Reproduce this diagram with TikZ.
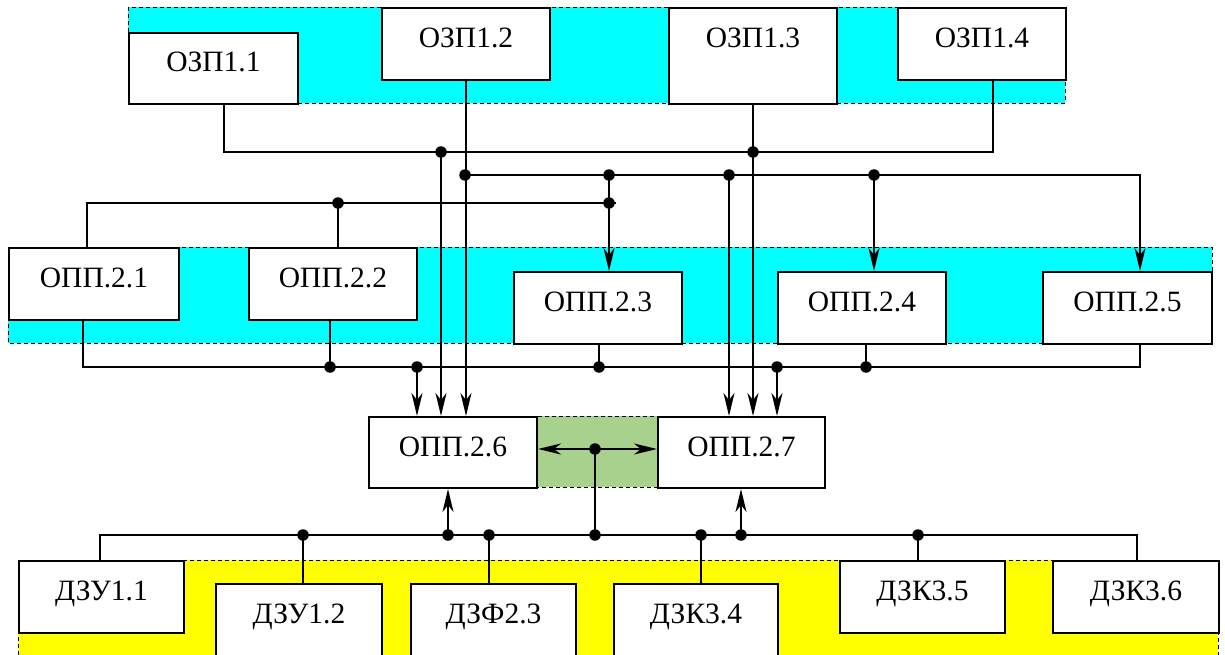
\documentclass[tikz,border=0pt]{standalone}
\usepackage{fontspec}
\setmainfont{Liberation Serif}
\usetikzlibrary{arrows.meta,calc}
\definecolor{cyanband}{RGB}{0,255,255}
\definecolor{greenband}{RGB}{169,209,142}
\definecolor{yellowband}{RGB}{255,255,0}
\begin{document}
\begin{tikzpicture}[x=1pt,y=-1pt,
 box/.style={draw, fill=white, line width=2pt, anchor=north west, inner sep=0pt,
   minimum width=168pt, minimum height=72pt, font=\fontsize{29.5}{31}\selectfont,
   text height=20pt, text depth=13pt},
 band/.style={draw, line width=0.8pt, dash pattern=on 4pt off 3pt},
 bus/.style={line width=1.8pt},
 tip/.tip={Stealth[length=23pt,width=11pt,inset=7pt]},
 arr/.style={line width=2.4pt, -tip},
 dot/.style={circle, fill=black, inner sep=0pt, minimum size=11.5pt}
]
\useasboundingbox (0,0) rectangle (1225,655);
\clip (0,0) rectangle (1225,655);
% bands
\path[band, fill=cyanband] (128,7) rectangle (1065,103);
\path[band, fill=cyanband] (8,247) rectangle (1212,343);
\path[band, fill=greenband] (536,416) rectangle (657,487);
\path[band, fill=yellowband] (18,560) rectangle (1218,680);
% boxes
\node[box, minimum width=169pt, minimum height=71pt] (o11) at (128,32) {ОЗП1.1};
\node[box] (o12) at (381,7) {ОЗП1.2};
\node[box, minimum height=96pt, text depth=37pt] (o13) at (668,7) {ОЗП1.3};
\node[box] (o14) at (897,7) {ОЗП1.4};
\node[box, minimum width=170pt] (p21) at (8,247) {ОПП.2.1};
\node[box] (p22) at (248,247) {ОПП.2.2};
\node[box] (p23) at (513,271) {ОПП.2.3};
\node[box] (p24) at (777,271) {ОПП.2.4};
\node[box, minimum width=169pt] (p25) at (1042,271) {ОПП.2.5};
\node[box, minimum height=71pt] (p26) at (368,416) {ОПП.2.6};
\node[box, minimum height=71pt, minimum width=167pt] (p27) at (657,416) {ОПП.2.7};
\node[box, minimum width=165pt] (d11) at (18,560) {ДЗУ1.1};
\node[box, minimum width=166pt] (d12) at (215,583) {ДЗУ1.2};
\node[box, minimum width=165pt] (d23) at (410,583) {ДЗФ2.3};
\node[box, minimum width=164pt] (d34) at (613,583) {ДЗК3.4};
\node[box, minimum width=165pt] (d35) at (839,560) {ДЗК3.5};
\node[box, minimum width=166pt] (d36) at (1052,560) {ДЗК3.6};
% coordinates
\coordinate (a1) at (224,152);
\coordinate (a4) at (993,152);
\coordinate (t1) at (441,152);
\coordinate (b1) at (465,175);
\coordinate (b2) at (609,175);
\coordinate (b3) at (729,175);
\coordinate (b4) at (874,175);
\coordinate (b5) at (1140,175);
\coordinate (c1) at (87,203);
\coordinate (c2) at (338,203);
\coordinate (c3) at (609,203);
\coordinate (c4) at (616,203);
\coordinate (e1) at (83,367);
\coordinate (e2) at (330,367);
\coordinate (e3) at (417,367);
\coordinate (e4) at (599,367);
\coordinate (e5) at (777,367);
\coordinate (e6) at (866,367);
\coordinate (e7) at (1140,367);
\coordinate (g) at (595,449);
\coordinate (h1) at (100,535);
\coordinate (h2) at (303,535);
\coordinate (h3) at (448,535);
\coordinate (h4) at (489,535);
\coordinate (h5) at (595,535);
\coordinate (h6) at (701,535);
\coordinate (h7) at (741,535);
\coordinate (h8) at (918,535);
\coordinate (h9) at (1137,535);
\coordinate (t2) at (o13.south |- a1);
% top bus
\draw[bus] (o11.south -| a1) -- (a1) -- (a4) -- (o14.south -| a4);
\draw[arr] (b1) -- (b5) -- (b5 |- p25.north);
\draw[arr] (o12.south) -- (o12.south |- p26.north);
\draw[arr] (t1) -- (t1 |- p26.north);
\draw[arr] (o13.south) -- (o13.south |- p27.north);
\draw[arr] (b3) -- (b3 |- p27.north);
\draw[arr] (b4) -- (b4 |- p24.north);
\draw[arr] (b2) -- (b2 |- p23.north);
% line 203
\draw[bus] (p21.north -| c1) -- (c1) -- (c4);
\draw[bus] (c2) -- (c2 |- p22.north);
% line 367
\draw[bus] (p21.south -| e1) -- (e1) -- (e7) -- (p25.south -| e7);
\draw[bus] (e2) -- (e2 |- p22.south);
\draw[bus] (e4) -- (e4 |- p23.south);
\draw[bus] (e6) -- (e6 |- p24.south);
\draw[arr] (e3) -- (e3 |- p26.north);
\draw[arr] (e5) -- (e5 |- p27.north);
% green link
\draw[line width=2.2pt, tip-tip] (p26.east |- g) -- (p27.west |- g);
% bottom bus
\draw[bus] (d11.north -| h1) -- (h1) -- (h9) -- (d36.north -| h9);
\draw[bus] (h2) -- (h2 |- d12.north);
\draw[bus] (h4) -- (h4 |- d23.north);
\draw[bus] (h6) -- (h6 |- d34.north);
\draw[bus] (h8) -- (h8 |- d35.north);
\draw[bus] (h5) -- (g);
\draw[arr] (h3) -- (h3 |- p26.south);
\draw[arr] (h7) -- (h7 |- p27.south);
% dots
\foreach \p in {t1,t2,b1,b2,b3,b4,c2,c3,e2,e3,e4,e5,e6,g,h2,h3,h4,h5,h6,h7,h8}
  \node[dot] at (\p) {};
\end{tikzpicture}
\end{document}
